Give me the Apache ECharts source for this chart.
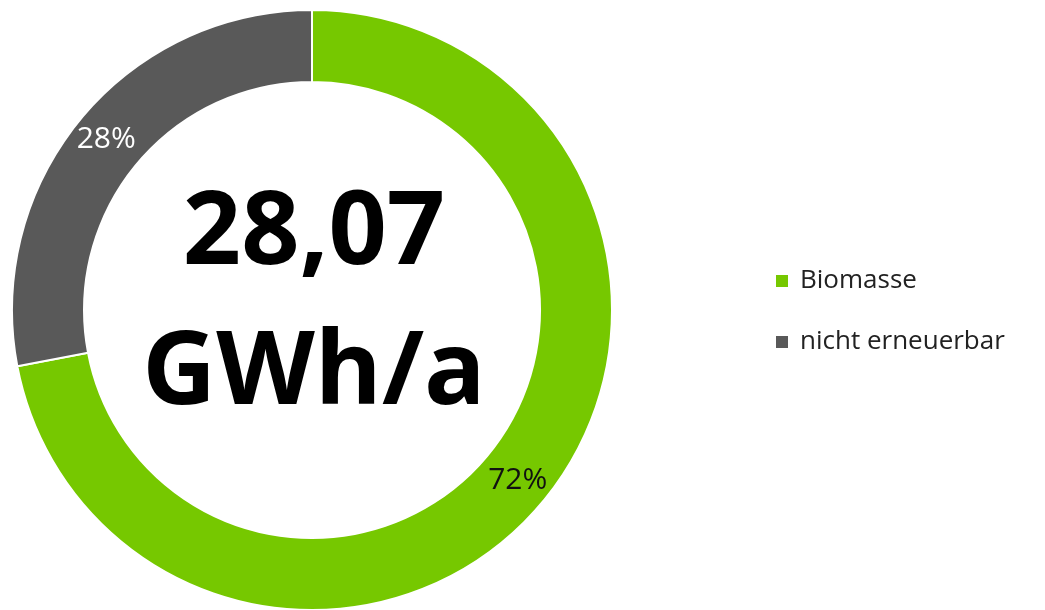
<!DOCTYPE html>
<html>
<head>
<meta charset="utf-8">
<script src="https://cdn.jsdelivr.net/npm/echarts@6/dist/echarts.min.js"></script>
<style>
    html, body { margin: 0; padding: 0; background: #fff; }
    #energy_pie { width: 1045px; height: 610px; }
</style>
</head>
<body>
<div id="energy_pie"></div>
<script>
// Anteile am Energieverbrauch (%)
var categories = ['Biomasse', 'nicht erneuerbar'];
var shares = [72, 28];
var colors = ['#76c800', '#595959'];
var labelColors = ['#111111', '#ffffff'];
var totalText = '28,07\nGWh/a';

var fontFamily = '"Open Sans", "Noto Sans", sans-serif';

var pieData = categories.map(function (name, i) {
    return {
        value: shares[i],
        name: name,
        itemStyle: { color: colors[i] },
        label: { color: labelColors[i] }
    };
});

var chart = echarts.init(document.getElementById('energy_pie'));
var option = {
    animation: false,
    textStyle: { fontFamily: fontFamily },
    legend: {
        orient: 'vertical',
        left: 774,
        top: 268,
        padding: 0,
        icon: 'rect',
        itemWidth: 14,
        itemHeight: 14,
        itemGap: 35,
        textStyle: { fontSize: 26, color: '#222', fontFamily: fontFamily, padding: [0, 0, 0, 6] },
        data: categories
    },
    graphic: [
        {
            type: 'text',
            style: {
                text: totalText,
                x: 314,
                y: 305,
                textAlign: 'center',
                textVerticalAlign: 'middle',
                fontSize: 102,
                lineHeight: 140,
                fontWeight: 'bold',
                fontFamily: fontFamily,
                fill: '#000'
            }
        }
    ],
    series: [
        {
            name: 'Energie',
            type: 'pie',
            center: [312, 310],
            radius: [228, 300],
            startAngle: 90,
            percentPrecision: 0,
            itemStyle: { borderColor: '#fff', borderWidth: 2 },
            label: {
                position: 'inside',
                formatter: '{d}%',
                fontSize: 30,
                fontFamily: fontFamily
            },
            labelLine: { show: false },
            data: pieData
        }
    ]
};
chart.setOption(option);
window.addEventListener('resize', function () {
    chart.resize();
});
</script>
</body>
</html>
